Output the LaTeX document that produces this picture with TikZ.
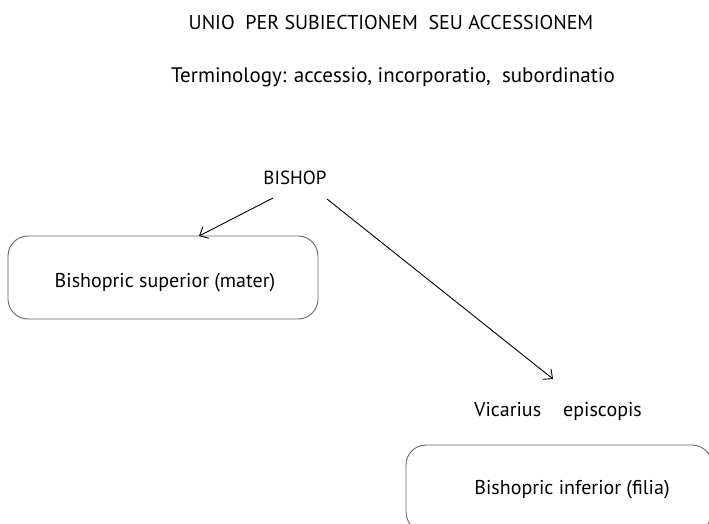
\documentclass[tikz,border=0pt]{standalone}
\usepackage{fontspec}
\setmainfont{PT Sans}
\usetikzlibrary{arrows.meta,positioning,calc}

\begin{document}
\begin{tikzpicture}[x=1pt,y=-1pt,
		every node/.style={font=\fontsize{20}{24}\selectfont, inner sep=2pt},
		see/.style={draw=black!60, line width=0.9pt, rounded corners=20pt},
		arr/.style={-{Straight Barb[length=7pt,width=13pt]}, line width=0.9pt}]
		
			\clip (0,0) rectangle (709,524);
			
			\node (title) at (391,23) {UNIO\ \ PER SUBIECTIONEM\ \ SEU ACCESSIONEM};
			\node[font=\fontsize{21}{25}\selectfont] (terms) at (393,77) {Terminology: accessio, incorporatio,\ \ subordinatio};
			\node[font=\fontsize{19}{23}\selectfont] (bishop) at (295,178) {BISHOP};
			
			\draw[see] (8,236) rectangle (318,319);
			\node (mater) at (165,283) {Bishopric superior (mater)};
			
			\node (vicar) at (558,411) {Vicarius\hspace{22pt}episcopis};
			
			\draw[see] (406,445) rectangle (712,532);
			\node (filia) at (572,490) {Bishopric inferior (filia)};
			
			\coordinate (b1) at (273,198);
			\coordinate (b2) at (327,199);
			\coordinate (m1) at (199,236);
			\coordinate (v1) at (553,379);
			
			\draw[arr] (b1) -- (m1);
			\draw[arr] (b2) -- (v1);
			
\end{tikzpicture}
\end{document}
